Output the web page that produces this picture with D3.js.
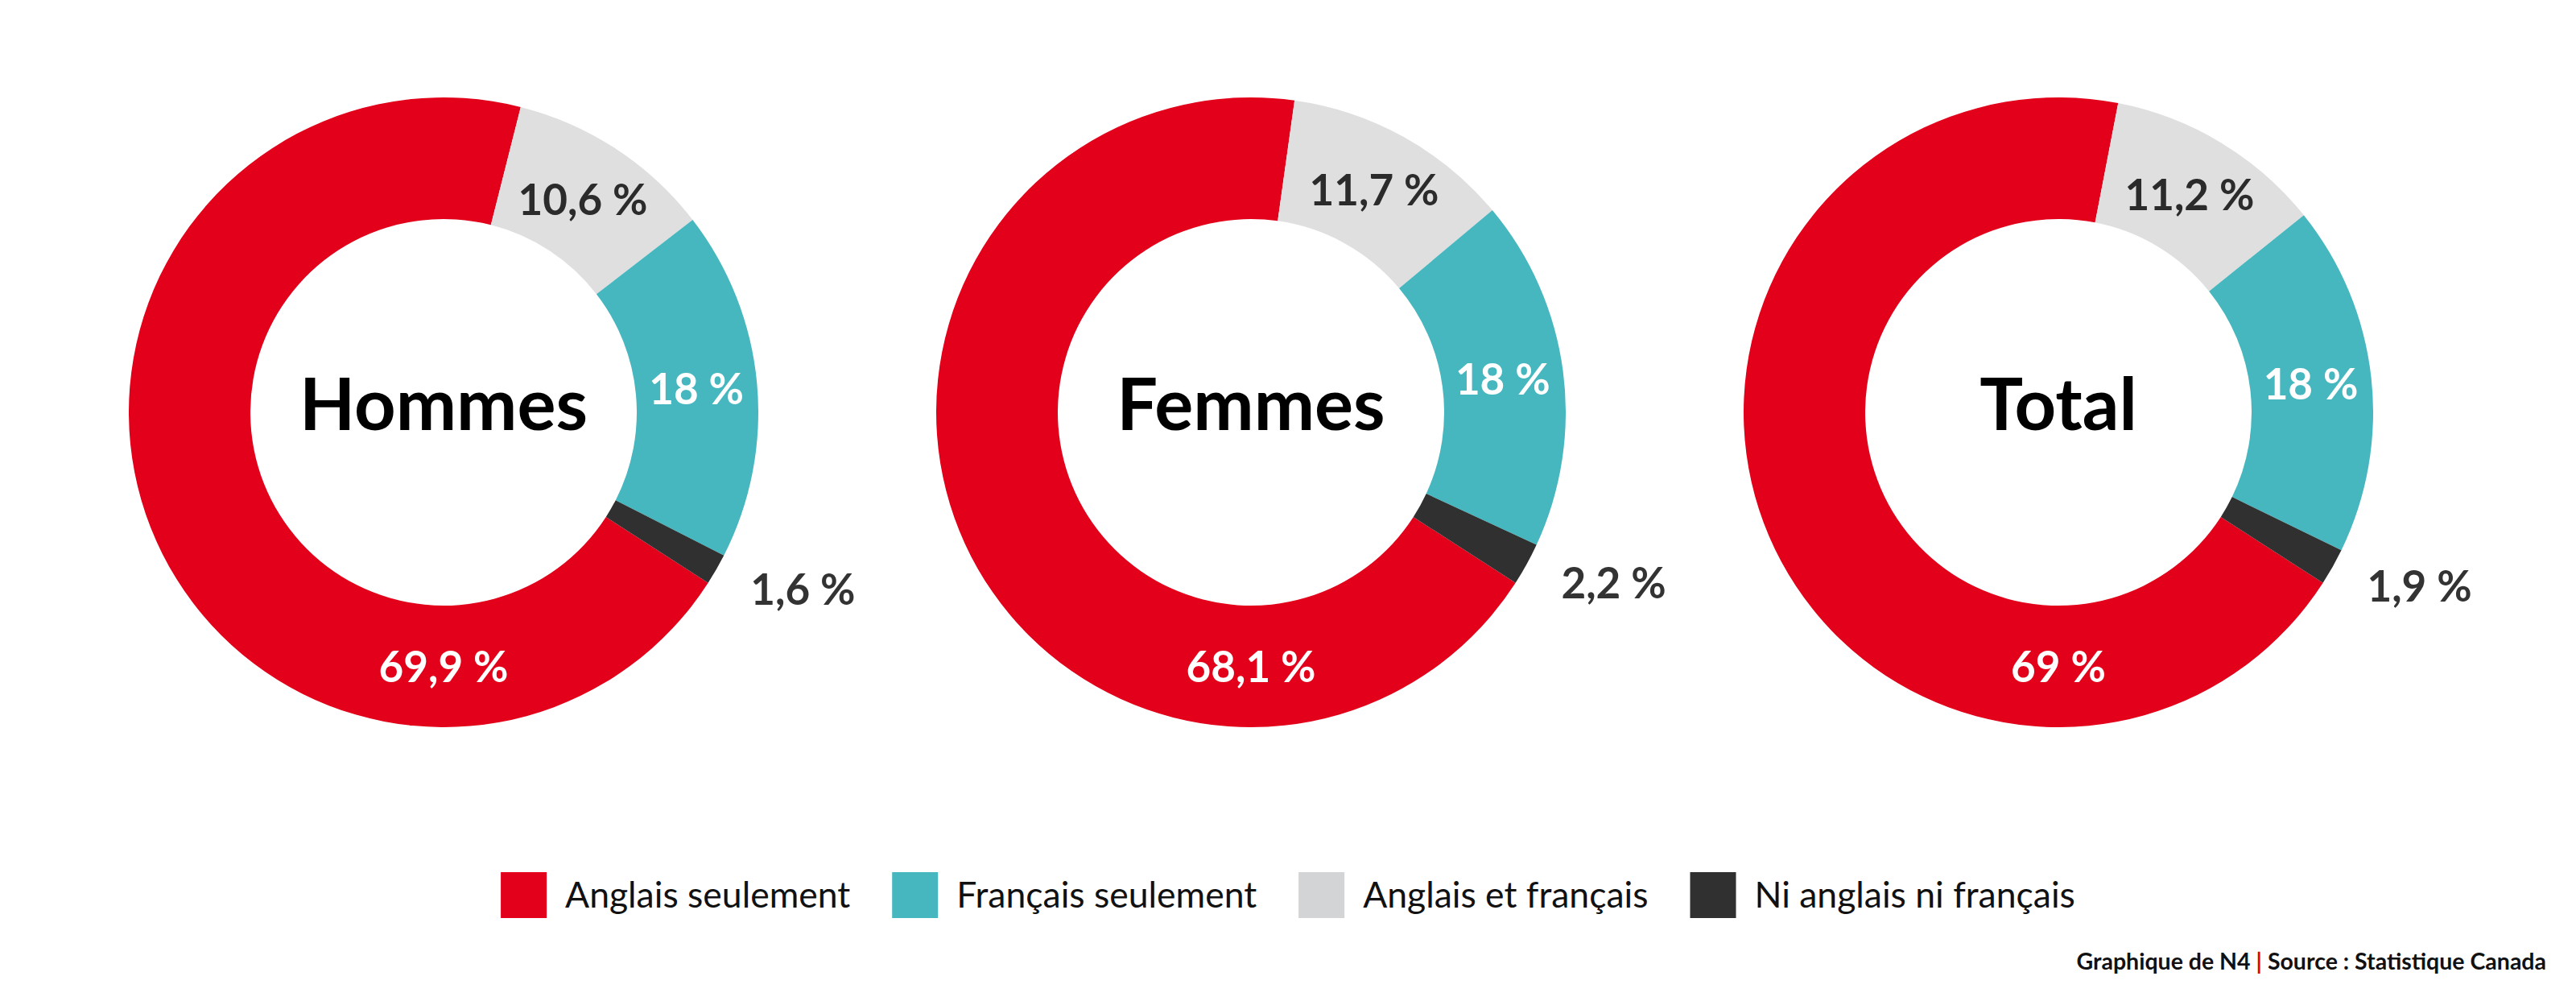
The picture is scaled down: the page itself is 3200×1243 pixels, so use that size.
<!DOCTYPE html>
<html>
<head>
<meta charset="utf-8">
<script src="https://cdn.jsdelivr.net/npm/d3@7"></script>
<style>
  html, body { margin: 0; padding: 0; background: #ffffff; }
  svg { display: block; }
</style>
</head>
<body>
<script>
// ---- Data ----
const categories = ["Hommes", "Femmes", "Total"];
const seriesNames = ["Anglais seulement", "Français seulement", "Anglais et français", "Ni anglais ni français"];
const anglaisSeulement = [69.9, 68.1, 69];
const francaisSeulement = [18, 18, 18];
const anglaisEtFrancais = [10.6, 11.7, 11.2];
const niAnglaisNiFrancais = [1.6, 2.2, 1.9];
const footerParts = ["Graphique de N4 ", "|", " Source : Statistique Canada"];

// ---- Styles ----
const W = 3200, H = 1243;
const colors = {
  "Anglais seulement": "#e2001a",
  "Français seulement": "#47b7bf",
  "Anglais et français": "#dfdfdf",
  "Ni anglais ni français": "#303030"
};
const legendColors = {
  "Anglais seulement": "#e2001a",
  "Français seulement": "#47b7bf",
  "Anglais et français": "#d3d4d6",
  "Ni anglais ni français": "#303030"
};
const FONT = "Lato, 'Open Sans', sans-serif";

const svg = d3.select("body").append("svg")
  .attr("width", W).attr("height", H)
  .attr("viewBox", `0 0 ${W} ${H}`);

const xScale = d3.scalePoint().domain(categories).range([551, 2557]);
const cy = 512;
const rOuter = 391, rInner = 240;

const fmt = v => String(v).replace(".", ",") + " %";

// clockwise order in the ring: red, gray, teal, dark
const ringOrder = ["Anglais seulement", "Anglais et français", "Français seulement", "Ni anglais ni français"];
const valueOf = (name, i) => ({
  "Anglais seulement": anglaisSeulement,
  "Français seulement": francaisSeulement,
  "Anglais et français": anglaisEtFrancais,
  "Ni anglais ni français": niAnglaisNiFrancais
}[name][i]);

const a0 = 122.8 * Math.PI / 180;
const pie = d3.pie().sort(null).value(d => d.value)
  .startAngle(a0).endAngle(a0 + 2 * Math.PI);
const arc = d3.arc().innerRadius(rInner).outerRadius(rOuter);

categories.forEach((cat, i) => {
  const g = svg.append("g").attr("transform", `translate(${xScale(cat)},${cy})`);
  const data = ringOrder.map(name => ({ name, value: valueOf(name, i) }));
  const arcs = pie(data);

  g.selectAll("path.slice").data(arcs).join("path")
    .attr("class", "slice")
    .attr("d", arc)
    .attr("fill", d => colors[d.data.name]);

  const rMid = (rInner + rOuter) / 2;
  arcs.forEach(d => {
    const name = d.data.name;
    const mid = (d.startAngle + d.endAngle) / 2;
    let x, y, anchor = "middle", fill;
    if (name === "Anglais seulement") {
      const ang = Math.PI;
      x = rMid * Math.sin(ang); y = -rMid * Math.cos(ang);
      fill = "#ffffff";
    } else if (name === "Ni anglais ni français") {
      const r = 440;
      x = r * Math.sin(mid); y = -r * Math.cos(mid);
      anchor = "start"; fill = "#333333";
    } else {
      [x, y] = arc.centroid(d);
      fill = name === "Français seulement" ? "#ffffff" : "#2b2b2b";
    }
    g.append("text")
      .attr("x", x).attr("y", y).attr("dy", "0.36em")
      .attr("text-anchor", anchor)
      .attr("font-family", FONT).attr("font-weight", 700)
      .attr("font-size", 53)
      .attr("fill", fill)
      .text(fmt(d.data.value));
  });

  g.append("text")
    .attr("x", 0).attr("y", 22)
    .attr("text-anchor", "middle")
    .attr("font-family", FONT).attr("font-weight", 700)
    .attr("font-size", 90)
    .attr("fill", "#000000")
    .text(cat);
});

// ---- Legend ----
const legend = svg.append("g");
const sq = 57, gapText = 23, gapItem = 52;
let lx = 0;
seriesNames.forEach(name => {
  const it = legend.append("g").attr("transform", `translate(${lx},0)`);
  it.append("rect").attr("x", 0).attr("y", 1083).attr("width", sq).attr("height", sq)
    .attr("fill", legendColors[name]);
  const t = it.append("text").attr("x", sq + gapText).attr("y", 1127)
    .attr("font-family", FONT).attr("font-weight", 400).attr("font-size", 44.5)
    .attr("fill", "#111111").text(name);
  const w = t.node().getComputedTextLength();
  lx += sq + gapText + w + gapItem;
});
const legendWidth = lx - gapItem;
legend.attr("transform", `translate(${W / 2 - legendWidth / 2},0)`);

// ---- Footer ----
const foot = svg.append("text")
  .attr("x", 3163).attr("y", 1204)
  .attr("text-anchor", "end")
  .attr("font-family", FONT).attr("font-weight", 700).attr("font-size", 28.5)
  .attr("fill", "#111111");
footerParts.forEach((p, i) => {
  foot.append("tspan").attr("fill", i === 1 ? "#e2001a" : "#111111").text(p);
});
</script>
</body>
</html>
